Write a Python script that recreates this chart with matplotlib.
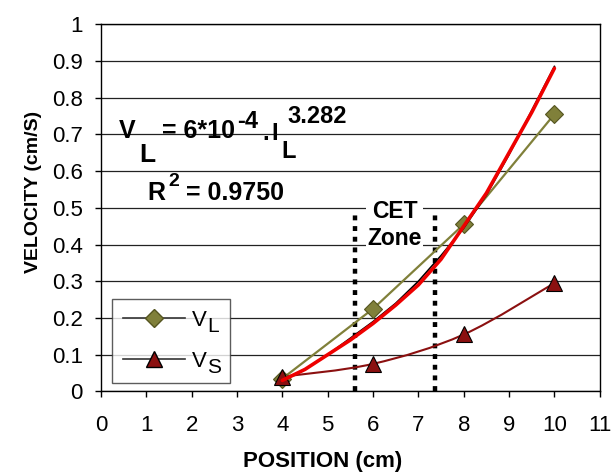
import matplotlib
matplotlib.use("Agg")
import matplotlib.pyplot as plt
from matplotlib.path import Path
from matplotlib.patches import PathPatch
from matplotlib.lines import Line2D
from matplotlib.transforms import IdentityTransform
import numpy as np

plt.rcParams['font.family'] = ['Liberation Sans', 'DejaVu Sans']

# measured data
position = [4, 6, 8, 10]
v_l = [0.035, 0.225, 0.455, 0.755]
v_s = [0.04, 0.075, 0.155, 0.295]

# power fit curve (red overlay and black trendline under it)
fit_x = [4, 4.5, 5, 5.5, 6, 6.5, 7, 7.5, 8, 8.5, 9, 9.5, 10]
fit_red = [0.03, 0.06, 0.10, 0.14, 0.185, 0.235, 0.29, 0.36, 0.45, 0.54, 0.65, 0.76, 0.88]
fit_black = [0.03, 0.06, 0.10, 0.145, 0.19, 0.24, 0.30, 0.37, 0.445, 0.535, 0.645, 0.765, 0.885]

cet_x = [5.6, 7.36]
cet_top = 0.486

xticks = list(range(0, 12))
yticks = [0, 0.1, 0.2, 0.3, 0.4, 0.5, 0.6, 0.7, 0.8, 0.9, 1]
ytick_labels = ['0', '0.1', '0.2', '0.3', '0.4', '0.5', '0.6', '0.7', '0.8', '0.9', '1']

OLIVE = '#80803a'
DARKRED = '#8b1010'


def smooth_path(xs, ys, t=1/6):
    # catmull-rom style bezier through the points (Excel "smoothed line")
    pts = np.column_stack([xs, ys])
    verts = [pts[0]]
    codes = [Path.MOVETO]
    n = len(pts)
    for i in range(n - 1):
        p0 = pts[max(i - 1, 0)]
        p1 = pts[i]
        p2 = pts[i + 1]
        p3 = pts[min(i + 2, n - 1)]
        c1 = p1 + (p2 - p0) * t
        c2 = p2 - (p3 - p1) * t
        verts += [c1, c2, p2]
        codes += [Path.CURVE4] * 3
    return Path(verts, codes)


fig = plt.figure(figsize=(6.12, 4.75), dpi=100)
ax = fig.add_axes([0.165, 0.176, 0.815, 0.773])

ax.set_xlim(0, 11)
ax.set_ylim(0, 1)
ax.set_xticks(xticks)
ax.set_yticks(yticks)
ax.set_yticklabels(ytick_labels)
ax.tick_params(direction='out', length=4, width=1, labelsize=16, colors='black')
ax.tick_params(axis='x', pad=13)
ax.tick_params(axis='y', pad=9)
ax.grid(axis='y', color='#222222', lw=0.9)
ax.set_axisbelow(True)
for s in ax.spines.values():
    s.set_color('black')
    s.set_linewidth(1)

# CET zone dotted lines
ax.vlines(cet_x, 0, cet_top, colors='black', lw=3.2, linestyles=(0, (1.1, 1.3)), zorder=3)

# VS smoothed line
ax.add_patch(PathPatch(smooth_path(position, v_s), facecolor='none', edgecolor=DARKRED, lw=1.5, zorder=4))
ax.plot(position, v_s, ls='none', marker='^', ms=11, color=DARKRED, mec='black', mew=0.8, zorder=6)

# VL line
ax.plot(position, v_l, color=OLIVE, lw=1.6, marker='D', ms=9, mfc=OLIVE, mec='#555520', mew=0.8, zorder=5)

# fit curves
ax.plot(fit_x, fit_black, color='black', lw=1.2, zorder=6)
ax.plot(fit_x, fit_red, color='#ee0000', lw=2.6, zorder=7, solid_capstyle='round')

ax.text(6.48, 0.453, 'CET\nZone', ha='center', va='center', fontsize=16.5, fontweight='bold',
        linespacing=1.25, bbox=dict(facecolor='white', edgecolor='none', pad=1), zorder=4)

# equation, placed in image pixels
H = 475


def ptext(px, py, s, size):
    fig.text(px, H - py, s, transform=IdentityTransform(), fontsize=size,
             fontweight='bold', va='baseline', ha='left')


ptext(119, 138, 'V', 18)
ptext(139, 162, 'L', 19)
ptext(162, 138, '= 6*10', 18)
ptext(237, 128, '-4', 17)
ptext(262, 140, '.', 17)
ptext(271, 140, 'I', 17)
ptext(281, 158, 'L', 17)
ptext(287, 123, '3.282', 17)
ptext(147, 200, 'R', 18)
ptext(168, 186, '2', 14)
ptext(186, 200, '= 0.9750', 18)

handles = [
    Line2D([], [], color='#333333', lw=1.2, marker='D', ms=9, mfc=OLIVE, mec='#555520'),
    Line2D([], [], color='#333333', lw=1.2, marker='^', ms=11, mfc=DARKRED, mec='black'),
]
leg = ax.legend(handles, ['V', 'V'], loc='lower left', mode='expand',
                bbox_to_anchor=(0.022, 0.023, 0.236, 0.2), fontsize=16, frameon=True,
                fancybox=False, edgecolor='#333333', handlelength=2.8, borderpad=0.5,
                labelspacing=0.9, handletextpad=0.3, borderaxespad=0)
leg.get_frame().set_linewidth(1)
leg.set_zorder(10)

ax.set_xlabel('POSITION (cm)', fontsize=16, fontweight='bold', va='top')
ax.xaxis.set_label_coords(0.444, -0.163)
ax.set_ylabel('VELOCITY (cm/S)', fontsize=14, fontweight='bold')
ax.yaxis.set_label_coords(-0.118, 0.544)

# subscripts of the legend labels, large as in the original
fig.canvas.draw()
for t, sub in zip(leg.get_texts(), ['L', 'S']):
    bb = t.get_window_extent()
    fig.text(bb.x1 + 0.5, bb.y0 - 1, sub, transform=IdentityTransform(), fontsize=15,
             va='baseline', ha='left', zorder=11)

fig.savefig('out.png', dpi=100)
